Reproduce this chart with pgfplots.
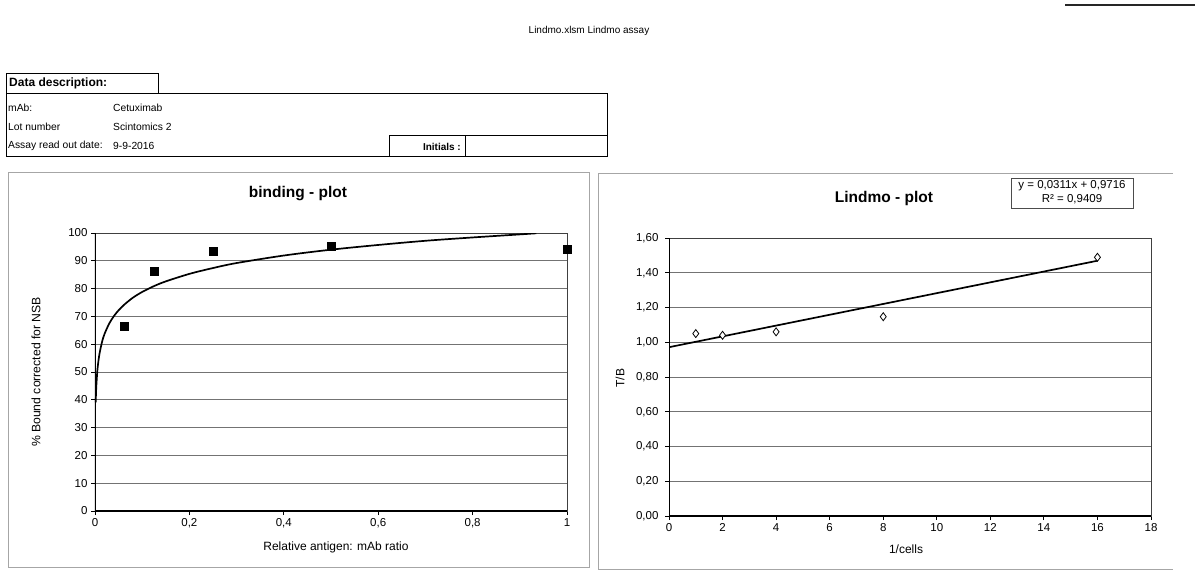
\documentclass[border=0pt]{standalone}
\usepackage{fontspec}
\setmainfont{Liberation Sans}
\usepackage{pgfplots}
\pgfplotsset{compat=1.18}
\begin{document}
\begin{tikzpicture}
\useasboundingbox (0,0) rectangle (1195pt,-571pt);
% header
\draw[black!85, line width=2pt] (1065pt,-5pt) -- (1195pt,-5pt);
\node at (589pt,-31pt) {\fontsize{10}{12}\selectfont Lindmo.xlsm Lindmo assay};
% data description
\draw[line width=0.7pt] (6pt,-73pt) rectangle (158pt,-93pt);
\node[anchor=west, inner sep=0pt] at (9pt,-83.5pt) {\bfseries\fontsize{12}{14}\selectfont Data description:};
\draw[line width=0.7pt] (6pt,-93pt) rectangle (607pt,-156pt);
\begin{scope}[every node/.style={anchor=west, inner sep=0pt, font=\fontsize{10.3}{12}\selectfont}]
\node at (8pt,-108pt) {mAb:};
\node at (113pt,-108pt) {Cetuximab};
\node at (8pt,-127pt) {Lot number};
\node at (113pt,-127pt) {Scintomics 2};
\node at (8pt,-146pt) {Assay read out date:};
\node at (113pt,-146pt) {9-9-2016};
\end{scope}
\draw[line width=0.7pt] (389pt,-156pt) -- (389pt,-135pt) -- (607pt,-135pt);
\draw[line width=0.7pt] (465pt,-135pt) -- (465pt,-156pt);
\node[anchor=east, inner sep=0pt] at (461pt,-147pt) {\bfseries\fontsize{10}{12}\selectfont Initials :};
% chart frames
\draw[gray!70, line width=0.8pt] (8pt,-172pt) rectangle (589pt,-567pt);
\draw[gray!70, line width=0.8pt] (1173pt,-173pt) -- (598pt,-173pt) -- (598pt,-569pt) -- (1173pt,-569pt);
% left chart
\begin{axis}[
  at={(95pt,-511pt)}, anchor=south west,
  scale only axis, width=472pt, height=278pt,
  xmin=0, xmax=1, ymin=0, ymax=100,
  axis line style={draw=black!75, line width=0.8pt},
  xtick={0,0.2,0.4,0.6,0.8,1},
  xticklabels={0,{0,2},{0,4},{0,6},{0,8},1},
  ytick={0,10,20,30,40,50,60,70,80,90,100},
  tick align=outside, tick pos=left, major tick length=4pt,
  tick style={black, line width=0.8pt},
  ymajorgrids, grid style={black!55, line width=0.9pt},
  ticklabel style={font=\fontsize{11.5}{13}\selectfont},
  /pgf/number format/assume math mode=true,
]
\addplot[black, line width=1.7pt, smooth] coordinates {
 (0.0015,39.1) (0.002,41.8) (0.003,45.6) (0.005,50.5) (0.0075,54.3)
 (0.01,57.0) (0.015,60.9) (0.02,63.6) (0.03,67.4) (0.04,70.1)
 (0.05,72.2) (0.0625,74.3) (0.08,76.7) (0.1,78.8) (0.125,80.9)
 (0.15,82.6) (0.2,85.3) (0.25,87.4) (0.3,89.2) (0.4,91.9)
 (0.5,94.0) (0.6,95.7) (0.7,97.2) (0.8,98.4) (0.9,99.5) (0.935,99.9)};
\addplot[only marks, mark=square*, mark size=4pt, black] coordinates {
 (0.0625,66.4) (0.125,86.4) (0.25,93.6) (0.5,95.2) (1,94.3)};
\draw[black, line width=1.3pt] (axis cs:0,100) -- (axis cs:0,0) -- (axis cs:1,0);
\end{axis}
\node at (298pt,-194pt) {\bfseries\fontsize{15.5}{18}\selectfont binding - plot};
\node[rotate=90] at (36pt,-372pt) {\fontsize{12.2}{14}\selectfont \% Bound corrected for NSB};
\node at (336pt,-547pt) {\fontsize{12}{14}\selectfont Relative antigen: mAb ratio};
% right chart
\begin{axis}[
  at={(669pt,-516pt)}, anchor=south west,
  scale only axis, width=482pt, height=278pt,
  xmin=0, xmax=18, ymin=0, ymax=1.6,
  axis line style={draw=black!75, line width=0.8pt},
  xtick={0,2,...,18},
  ytick={0,0.2,0.4,0.6,0.8,1.0,1.2,1.4,1.6},
  /pgf/number format/fixed, /pgf/number format/fixed zerofill,
  /pgf/number format/precision=2, /pgf/number format/use comma,
  xticklabel style={/pgf/number format/precision=0},
  tick align=outside, tick pos=left, major tick length=4pt,
  tick style={black, line width=0.8pt},
  ymajorgrids, grid style={black!55, line width=0.9pt},
  ticklabel style={font=\fontsize{11.5}{13}\selectfont},
  yticklabel style={xshift=-3pt},
  /pgf/number format/assume math mode=true,
]
\addplot[black, line width=1.7pt] coordinates {(0,0.9716) (16,1.4692)};
\addplot[only marks, mark=diamond*, mark size=4pt, black, fill=white, line width=0.8pt] coordinates {
 (1,1.05) (2,1.04) (4,1.06) (8,1.147) (16,1.489)};
\draw[black, line width=1.3pt] (axis cs:0,1.6) -- (axis cs:0,0) -- (axis cs:18,0);
\end{axis}
\node at (884pt,-198pt) {\bfseries\fontsize{15.5}{18}\selectfont Lindmo - plot};
\node[rotate=90] at (620pt,-378pt) {\fontsize{12}{14}\selectfont T/B};
\node at (906pt,-549pt) {\fontsize{12}{14}\selectfont 1/cells};
\draw[black!70, line width=0.8pt, fill=white] (1011pt,-178pt) rectangle (1133pt,-208pt);
\node at (1072pt,-186pt) {\fontsize{11.5}{13}\selectfont y = 0,0311x + 0,9716};
\node at (1072pt,-199.5pt) {\fontsize{11.5}{13}\selectfont R² = 0,9409};
\end{tikzpicture}
\end{document}
